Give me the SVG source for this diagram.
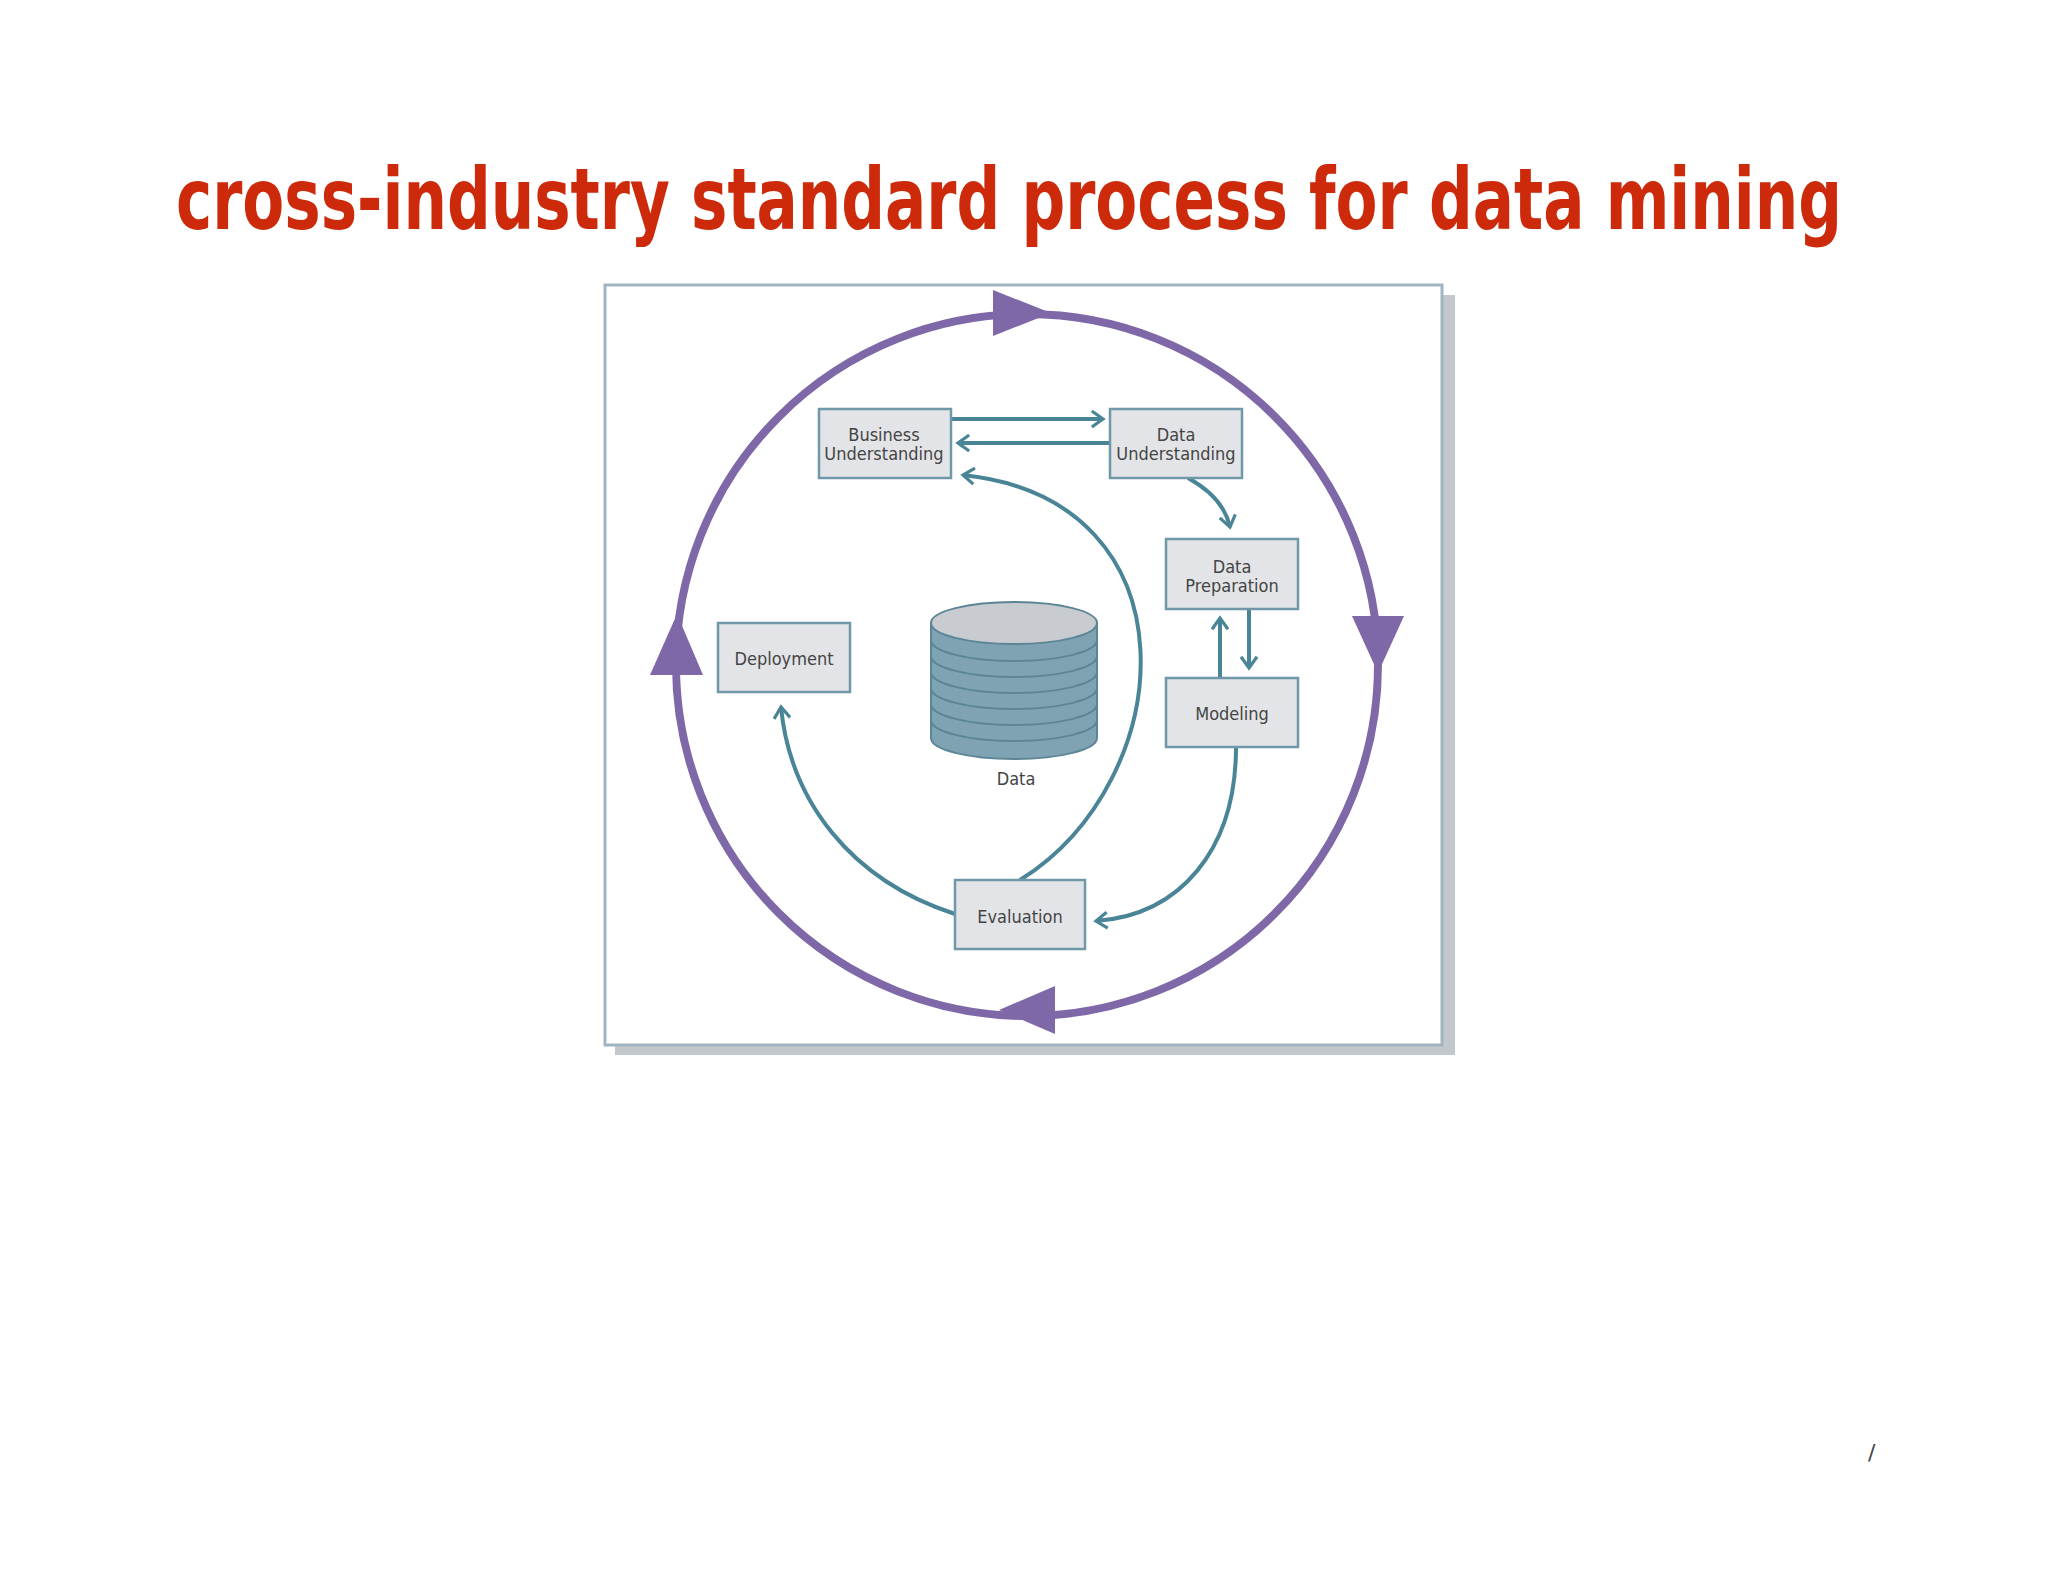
<svg xmlns="http://www.w3.org/2000/svg" width="2048" height="1582" viewBox="0 0 2048 1582">
<style>
.box{fill:#e3e4e7;stroke:#6f98a9;stroke-width:2.5}
.lbl{font-family:"DejaVu Sans Condensed","DejaVu Sans",sans-serif;font-size:18px;fill:#444;text-anchor:middle}
.con{fill:none;stroke:#4a8597;stroke-width:4}
.ring{fill:none;stroke:#7f68a8;stroke-width:8}
.ah{fill:#7f68a8}
</style>
<defs>
<marker id="ch" viewBox="0 0 10 12" refX="8" refY="6" markerWidth="4" markerHeight="4.8" orient="auto" markerUnits="strokeWidth">
<path d="M1,1 L8,6 L1,11" fill="none" stroke="#4a8597" stroke-width="2"/>
</marker>
</defs>
<rect width="2048" height="1582" fill="#fff"/>
<text x="176" y="229" font-family="'DejaVu Sans Condensed','Liberation Sans',sans-serif" font-weight="bold" font-size="86" fill="#cc2a0a" textLength="1666" lengthAdjust="spacingAndGlyphs">cross-industry standard process for data mining</text>
<rect x="615" y="295" width="840" height="760" fill="#c3c8cc"/>
<rect x="605" y="285" width="837" height="760" fill="#fff" stroke="#9fb4c0" stroke-width="3"/>
<g id="cycle">
<circle class="ring" cx="1027" cy="665" r="351"/>
<polygon class="ah" points="1051,313 993,290 993,336"/>
<polygon class="ah" points="1378,673 1352,616 1404,616"/>
<polygon class="ah" points="999,1010 1055,986 1055,1034"/>
<polygon class="ah" points="677,614 650,675 703,675"/>
</g>
<g id="connectors">
<path class="con" d="M951,419 H1103" marker-end="url(#ch)"/>
<path class="con" d="M1110,443 H958" marker-end="url(#ch)"/>
<path class="con" d="M1188,478 C1210,490 1225,505 1230,527" marker-end="url(#ch)"/>
<path class="con" d="M1220,678 V618" marker-end="url(#ch)"/>
<path class="con" d="M1249,609 V668" marker-end="url(#ch)"/>
<path class="con" d="M1236,747 C1236,850 1180,915 1096,921" marker-end="url(#ch)"/>
<path class="con" d="M1020,880 C1180,780 1200,500 963,475" marker-end="url(#ch)"/>
<path class="con" d="M955,914 C850,880 790,800 781,707" marker-end="url(#ch)"/>
</g>
<g id="data">
<path d="M931,623 V738 A83,21 0 0 0 1097,738 V623 Z" fill="#7fa3b3" stroke="#5c8596" stroke-width="2"/>
<g fill="none" stroke="#5c8596" stroke-width="2">
<path d="M931,640 A83,21 0 0 0 1097,640"/>
<path d="M931,656 A83,21 0 0 0 1097,656"/>
<path d="M931,672 A83,21 0 0 0 1097,672"/>
<path d="M931,688 A83,21 0 0 0 1097,688"/>
<path d="M931,704 A83,21 0 0 0 1097,704"/>
<path d="M931,720 A83,21 0 0 0 1097,720"/>
</g>
<ellipse cx="1014" cy="623" rx="83" ry="21" fill="#c8ccd0" stroke="#5c8596" stroke-width="2"/>
<text class="lbl" x="1016" y="785" font-size="20">Data</text>
</g>
<g id="bu"><rect class="box" x="819" y="409" width="132" height="69"/><text class="lbl" x="884" y="441">Business</text><text class="lbl" x="884" y="460">Understanding</text></g>
<g id="du"><rect class="box" x="1110" y="409" width="132" height="69"/><text class="lbl" x="1176" y="441">Data</text><text class="lbl" x="1176" y="460">Understanding</text></g>
<g id="dp"><rect class="box" x="1166" y="539" width="132" height="70"/><text class="lbl" x="1232" y="573">Data</text><text class="lbl" x="1232" y="592">Preparation</text></g>
<g id="mod"><rect class="box" x="1166" y="678" width="132" height="69"/><text class="lbl" x="1232" y="720">Modeling</text></g>
<g id="dep"><rect class="box" x="718" y="623" width="132" height="69"/><text class="lbl" x="784" y="665">Deployment</text></g>
<g id="eval"><rect class="box" x="955" y="880" width="130" height="69"/><text class="lbl" x="1020" y="923">Evaluation</text></g>
<text x="1868" y="1460" font-family="'DejaVu Sans',sans-serif" font-size="22" fill="#444">/</text>
</svg>
